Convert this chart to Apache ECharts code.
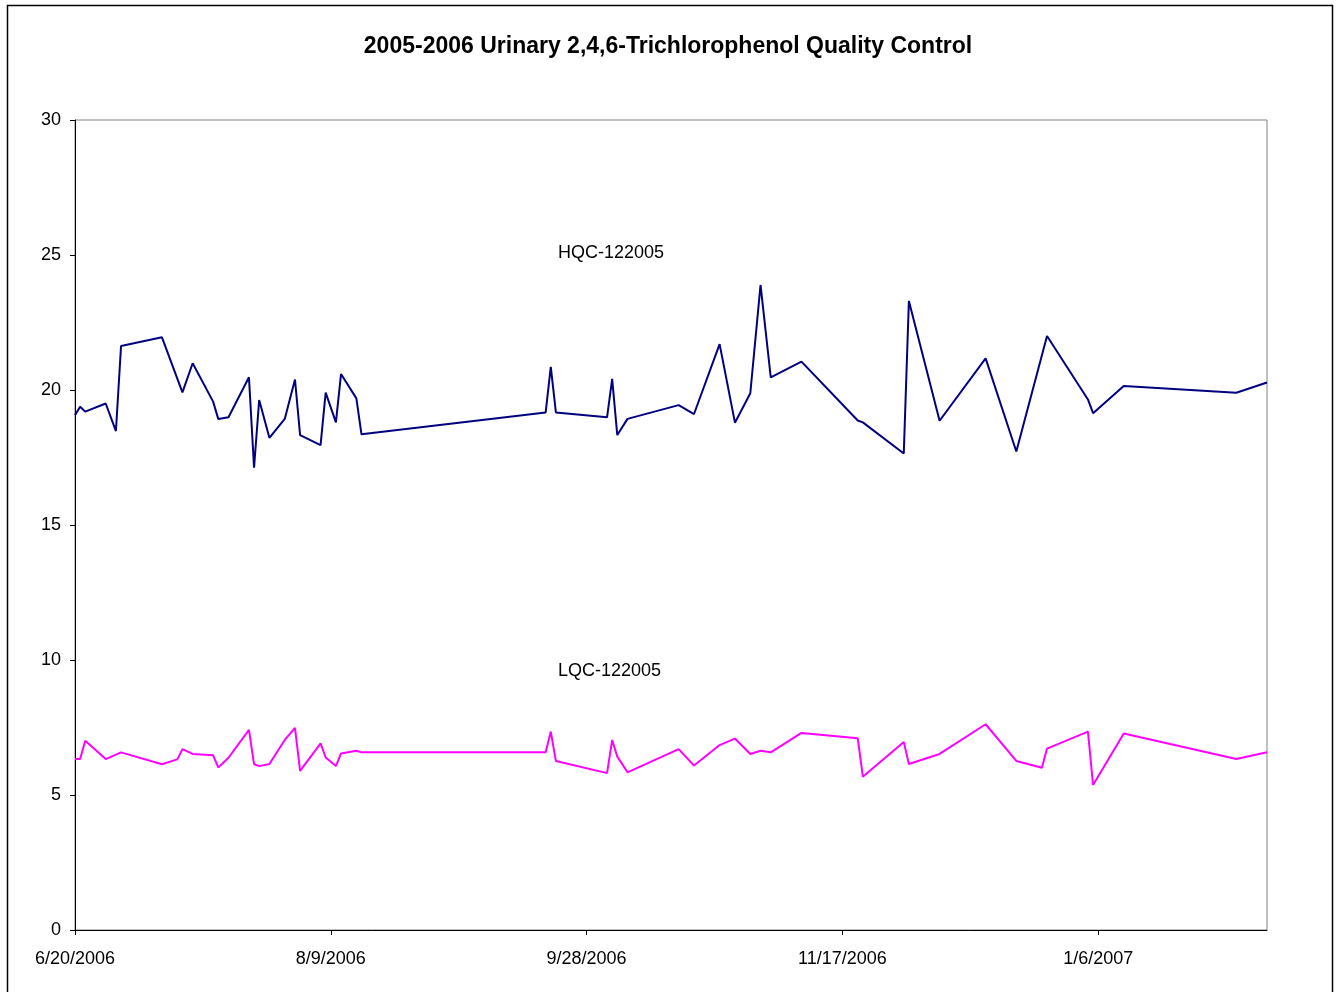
<!DOCTYPE html>
<html>
<head>
<meta charset="utf-8">
<title>2005-2006 Urinary 2,4,6-Trichlorophenol Quality Control</title>
<script src="https://cdn.jsdelivr.net/npm/echarts@6/dist/echarts.min.js"></script>
<style>
    html, body { margin: 0; padding: 0; background: #fff; }
    #main { width: 1336px; height: 992px; }
</style>
</head>
<body>
<div id="main"></div>
<script>
    // run dates (null = no result for that series on that day)
    var runDates = [
        '2006-06-20', '2006-06-21', '2006-06-22', '2006-06-26', '2006-06-28', '2006-06-29',
        '2006-07-07', '2006-07-10', '2006-07-11', '2006-07-13', '2006-07-17', '2006-07-18',
        '2006-07-20', '2006-07-24', '2006-07-25', '2006-07-26', '2006-07-28', '2006-07-31',
        '2006-08-02', '2006-08-03', '2006-08-07', '2006-08-08', '2006-08-10', '2006-08-11',
        '2006-08-14', '2006-08-15', '2006-09-20', '2006-09-21', '2006-09-22', '2006-10-02',
        '2006-10-03', '2006-10-04', '2006-10-06', '2006-10-16', '2006-10-19', '2006-10-24',
        '2006-10-27', '2006-10-30', '2006-11-01', '2006-11-03', '2006-11-09', '2006-11-20',
        '2006-11-21', '2006-11-29', '2006-11-30', '2006-12-06', '2006-12-15', '2006-12-21',
        '2006-12-26', '2006-12-27', '2007-01-04', '2007-01-05', '2007-01-11', '2007-02-02',
        '2007-02-08'
    ];
    var hqcValues = [
        19.07, 19.38, 19.2, 19.5, 18.48, 21.63,
        21.95, null, 19.91, 20.99, 19.57, 18.93,
        18.99, 20.47, 17.12, 19.63, 18.23, 18.93,
        20.39, 18.33, 17.96, 19.9, 18.8, 20.59,
        19.69, 18.36, 19.17, 20.86, 19.17, 18.99,
        20.41, 18.33, 18.93, 19.44, 19.11, 21.7,
        18.79, 19.88, 23.89, 20.47, 21.05, 18.87,
        18.8, 17.65, 23.3, 18.86, 21.17, 17.72,
        null, 22.0, 19.65, 19.14, 20.15, 19.9,
        20.28
    ];
    var lqcValues = [
        6.33, 6.33, 7.01, 6.33, null, 6.58,
        6.14, 6.32, 6.7, 6.52, 6.47, 6.02,
        6.38, 7.41, 6.14, 6.07, 6.15, 7.04,
        7.49, 5.89, 6.91, 6.39, 6.07, 6.54,
        6.64, 6.58, 6.58, 7.35, 6.26, 5.81,
        7.04, 6.42, 5.84, 6.7, 6.09, 6.85,
        7.09, 6.52, 6.64, 6.58, 7.3, 7.1,
        5.68, 6.96, 6.15, 6.52, 7.62, 6.26,
        6.01, 6.72, 7.35, 5.37, 7.28, 6.33,
        6.58
    ];
    var yTicks = [0, 5, 10, 15, 20, 25, 30];

    var DAY = 86400000;
    var startDate = runDates[0];
    function toMs(s) {
        var p = s.split('-');
        return Date.UTC(+p[0], +p[1] - 1, +p[2]);
    }
    // x = days since first run date
    function dayOf(s) {
        return Math.round((toMs(s) - toMs(startDate)) / DAY);
    }
    function dayLabel(d) {
        var t = new Date(toMs(startDate) + d * DAY);
        return (t.getUTCMonth() + 1) + '/' + t.getUTCDate() + '/' + t.getUTCFullYear();
    }
    function pairs(values) {
        return runDates.map(function (s, i) { return [dayOf(s), values[i]]; });
    }

    var myChart = echarts.init(document.getElementById('main'));
    var option = {
        backgroundColor: '#fff',
        animation: false,
        title: {
            text: '2005-2006 Urinary 2,4,6-Trichlorophenol Quality Control',
            left: 'center',
            top: 30,
            textStyle: {
                fontFamily: 'Liberation Sans, Arial, sans-serif',
                fontSize: 23,
                fontWeight: 'bold',
                color: '#000'
            }
        },
        grid: {
            left: 75,
            right: 69,
            top: 120,
            bottom: 62,
            show: true,
            borderColor: '#808080',
            borderWidth: 1
        },
        xAxis: {
            type: 'value',
            min: 0,
            max: dayOf(runDates[runDates.length - 1]),
            interval: 50,
            splitLine: { show: false },
            axisLine: { lineStyle: { color: '#000', width: 1 } },
            axisTick: { show: true, length: 5, lineStyle: { color: '#000' } },
            axisLabel: {
                formatter: function (v) { return dayLabel(v); },
                showMaxLabel: false,
                margin: 20,
                fontFamily: 'Liberation Sans, Arial, sans-serif',
                fontSize: 18,
                color: '#000'
            }
        },
        yAxis: {
            type: 'value',
            min: yTicks[0],
            max: yTicks[yTicks.length - 1],
            interval: 5,
            splitLine: { show: false },
            axisLine: { show: true, lineStyle: { color: '#000', width: 1 } },
            axisTick: { show: true, length: 5, lineStyle: { color: '#000' } },
            axisLabel: {
                margin: 14,
                fontFamily: 'Liberation Sans, Arial, sans-serif',
                fontSize: 18,
                color: '#000'
            }
        },
        series: [
            {
                name: 'HQC-122005',
                type: 'line',
                data: pairs(hqcValues),
                connectNulls: true,
                showSymbol: false,
                symbol: 'none',
                lineStyle: { color: '#000080', width: 2 },
                itemStyle: { color: '#000080' }
            },
            {
                name: 'LQC-122005',
                type: 'line',
                data: pairs(lqcValues),
                connectNulls: true,
                showSymbol: false,
                symbol: 'none',
                lineStyle: { color: '#ff00ff', width: 2 },
                itemStyle: { color: '#ff00ff' }
            }
        ],
        graphic: [
            {
                type: 'rect',
                shape: { x: 7.5, y: 5.5, width: 1325, height: 1010 },
                style: { fill: null, stroke: '#000', lineWidth: 1.5 },
                silent: true
            },
            {
                type: 'text',
                left: 558,
                top: 244,
                style: {
                    text: 'HQC-122005',
                    font: '18px "Liberation Sans", Arial, sans-serif',
                    fill: '#000'
                }
            },
            {
                type: 'text',
                left: 558,
                top: 662,
                style: {
                    text: 'LQC-122005',
                    font: '18px "Liberation Sans", Arial, sans-serif',
                    fill: '#000'
                }
            }
        ]
    };
    myChart.setOption(option);
</script>
</body>
</html>
